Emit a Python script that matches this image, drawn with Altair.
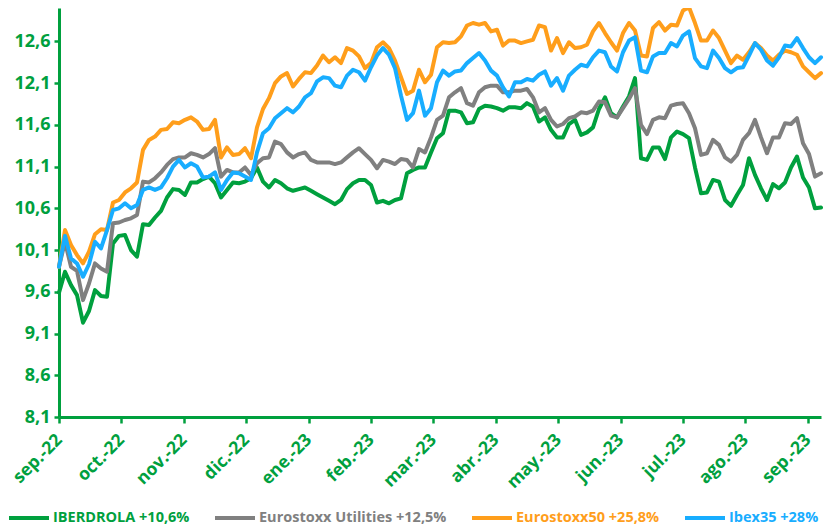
import json
import altair as alt
import pandas as pd

# ---------------- data ----------------
months = ["sep.-22", "oct.-22", "nov.-22", "dic.-22", "ene.-23", "feb.-23", "mar.-23",
          "abr.-23", "may.-23", "jun.-23", "jul.-23", "ago.-23", "sep.-23"]
y_ticks = [8.1, 8.6, 9.1, 9.6, 10.1, 10.6, 11.1, 11.6, 12.1, 12.6]
series_names = ["IBERDROLA +10,6%", "Eurostoxx Utilities +12,5%", "Eurostoxx50 +25,8%", "Ibex35 +28%"]
series_colors = ["#00A03E", "#808080", "#FF9E1B", "#18ADFF"]
points_per_month = 10.4

iberdrola = [9.59, 9.84, 9.68, 9.56, 9.23, 9.37, 9.62, 9.55, 9.54, 10.18,
             10.27, 10.28, 10.10, 10.02, 10.41, 10.40, 10.49, 10.57, 10.73, 10.83,
             10.82, 10.76, 10.91, 10.91, 10.95, 10.98, 10.90, 10.73, 10.82, 10.91,
             10.90, 10.92, 10.96, 11.09, 10.92, 10.85, 10.94, 10.90, 10.84, 10.81,
             10.83, 10.85, 10.81, 10.77, 10.73, 10.69, 10.65, 10.70, 10.83, 10.90,
             10.94, 10.94, 10.88, 10.67, 10.69, 10.66, 10.70, 10.72, 11.02, 11.06,
             11.09, 11.09, 11.27, 11.44, 11.50, 11.77, 11.77, 11.75, 11.62, 11.63,
             11.79, 11.83, 11.82, 11.80, 11.77, 11.81, 11.81, 11.80, 11.86, 11.82,
             11.64, 11.69, 11.54, 11.45, 11.45, 11.61, 11.66, 11.48, 11.51, 11.57,
             11.79, 11.93, 11.74, 11.69, 11.82, 11.94, 12.16, 11.20, 11.18, 11.33,
             11.33, 11.19, 11.45, 11.52, 11.49, 11.44, 11.09, 10.78, 10.79, 10.94,
             10.92, 10.70, 10.63, 10.76, 10.88, 11.20, 11.00, 10.84, 10.70, 10.89,
             10.84, 10.91, 11.09, 11.22, 10.97, 10.85, 10.60, 10.61]

utilities = [9.90, 10.20, 9.90, 9.85, 9.50, 9.70, 9.94, 9.88, 9.84, 10.42,
             10.43, 10.46, 10.48, 10.52, 10.92, 10.91, 10.96, 11.03, 11.12, 11.19,
             11.21, 11.21, 11.26, 11.24, 11.21, 11.25, 11.32, 10.98, 11.06, 11.03,
             11.03, 11.09, 11.00, 11.14, 11.20, 11.21, 11.40, 11.37, 11.27, 11.21,
             11.25, 11.27, 11.18, 11.15, 11.15, 11.15, 11.13, 11.15, 11.21, 11.27,
             11.32, 11.25, 11.18, 11.08, 11.18, 11.16, 11.13, 11.19, 11.18, 11.09,
             11.31, 11.27, 11.45, 11.66, 11.71, 11.93, 11.99, 12.04, 11.86, 11.83,
             11.99, 12.05, 12.07, 12.07, 11.99, 11.99, 12.01, 12.01, 12.03, 11.93,
             11.75, 11.80, 11.66, 11.58, 11.61, 11.68, 11.70, 11.75, 11.74, 11.77,
             11.88, 11.87, 11.71, 11.69, 11.80, 11.91, 12.04, 11.60, 11.49, 11.66,
             11.69, 11.68, 11.83, 11.85, 11.86, 11.74, 11.56, 11.24, 11.26, 11.42,
             11.36, 11.21, 11.16, 11.24, 11.42, 11.50, 11.66, 11.45, 11.26, 11.45,
             11.45, 11.62, 11.61, 11.68, 11.38, 11.25, 10.98, 11.02]

eurostoxx50 = [9.90, 10.34, 10.16, 10.04, 9.94, 10.08, 10.29, 10.35, 10.34, 10.67,
               10.70, 10.79, 10.84, 10.91, 11.30, 11.42, 11.46, 11.54, 11.55, 11.63,
               11.62, 11.66, 11.69, 11.64, 11.54, 11.55, 11.66, 11.21, 11.33, 11.24,
               11.25, 11.32, 11.20, 11.57, 11.79, 11.92, 12.10, 12.18, 12.22, 12.06,
               12.15, 12.23, 12.22, 12.31, 12.43, 12.35, 12.41, 12.34, 12.52, 12.49,
               12.42, 12.28, 12.34, 12.53, 12.59, 12.52, 12.37, 12.17, 11.97, 12.01,
               12.26, 12.11, 12.20, 12.53, 12.59, 12.58, 12.59, 12.66, 12.79, 12.82,
               12.80, 12.82, 12.72, 12.74, 12.55, 12.61, 12.61, 12.58, 12.60, 12.62,
               12.79, 12.77, 12.49, 12.64, 12.46, 12.59, 12.52, 12.53, 12.56, 12.72,
               12.82, 12.70, 12.59, 12.49, 12.70, 12.82, 12.73, 12.43, 12.42, 12.76,
               12.83, 12.73, 12.80, 12.79, 12.97, 13.01, 12.82, 12.61, 12.61, 12.73,
               12.64, 12.49, 12.34, 12.43, 12.38, 12.47, 12.58, 12.52, 12.43, 12.37,
               12.44, 12.49, 12.47, 12.44, 12.30, 12.23, 12.16, 12.22]

ibex35 = [9.90, 10.27, 10.00, 9.94, 9.78, 9.93, 10.20, 10.12, 10.34, 10.58,
          10.60, 10.66, 10.60, 10.64, 10.82, 10.85, 10.82, 10.85, 10.96, 11.10,
          11.18, 11.09, 11.14, 11.10, 10.97, 10.98, 11.03, 10.82, 10.94, 11.03,
          11.02, 10.98, 10.94, 11.27, 11.50, 11.56, 11.68, 11.74, 11.80, 11.75,
          11.82, 11.93, 11.98, 12.12, 12.17, 12.16, 12.07, 12.05, 12.19, 12.26,
          12.23, 12.13, 12.29, 12.43, 12.52, 12.44, 12.28, 11.95, 11.66, 11.74,
          12.01, 11.71, 11.80, 12.11, 12.25, 12.19, 12.24, 12.25, 12.34, 12.40,
          12.46, 12.37, 12.25, 12.19, 12.05, 11.94, 12.11, 12.11, 12.15, 12.13,
          12.20, 12.24, 12.07, 12.16, 12.01, 12.19, 12.26, 12.32, 12.30, 12.41,
          12.49, 12.47, 12.30, 12.24, 12.47, 12.61, 12.65, 12.25, 12.23, 12.42,
          12.46, 12.46, 12.58, 12.54, 12.67, 12.72, 12.40, 12.30, 12.28, 12.49,
          12.40, 12.28, 12.23, 12.28, 12.29, 12.43, 12.58, 12.50, 12.37, 12.31,
          12.41, 12.55, 12.54, 12.64, 12.52, 12.41, 12.34, 12.41]

# ---------------- table ----------------
all_series = [iberdrola, utilities, eurostoxx50, ibex35]
N = len(iberdrola)
rows = []
for name, vals in zip(series_names, all_series):
    for d, v in enumerate(vals):
        rows.append({"day": d, "serie": name, "valor": v})
df = pd.DataFrame(rows)

GREEN = "#00A03E"
FONT = "Open Sans"
tick_pos = [i * points_per_month for i in range(len(months))]
month_expr = json.dumps(months) + "[round(datum.value / %s)]" % points_per_month

x_enc = alt.X(
    "day:Q",
    scale=alt.Scale(domain=[0, N - 1], nice=False, zero=False),
    axis=alt.Axis(
        values=tick_pos, labelExpr=month_expr, title=None, grid=False,
        labelAngle=315, labelAlign="right", labelBaseline="middle",
        labelPadding=14, labelOverlap=False, labelFlush=False, labelBound=False,
        tickSize=6, tickWidth=2.5, tickColor=GREEN,
        domainColor=GREEN, domainWidth=3,
        labelColor=GREEN, labelFont=FONT, labelFontWeight="bold", labelFontSize=17.5,
    ),
)
y_enc = alt.Y(
    "valor:Q",
    scale=alt.Scale(domain=[8.1, 13.0], nice=False, zero=False),
    axis=alt.Axis(
        values=y_ticks, labelExpr="replace(format(datum.value, '.1f'), '.', ',')",
        title=None, grid=False, tickSize=5, tickWidth=2.5, tickColor=GREEN,
        domainColor=GREEN, domainWidth=3, labelPadding=4,
        labelColor=GREEN, labelFont=FONT, labelFontWeight="bold", labelFontSize=18,
    ),
)
legend = alt.Legend(
    title=None, orient="none", legendX=-52, legendY=488, direction="horizontal",
    columns=4, symbolType="stroke", symbolSize=1600, symbolStrokeWidth=4,
    labelFont=FONT, labelFontWeight="bold", labelFontSize=14.5, labelLimit=400,
    labelColor={"expr": "scale('color', datum.value)"},
    columnPadding=17, labelOffset=2, padding=0,
)
color_enc = alt.Color("serie:N", scale=alt.Scale(domain=series_names, range=series_colors),
                      legend=legend)

layers = []
for name in series_names:
    layers.append(
        alt.Chart(df)
        .transform_filter(alt.datum.serie == name)
        .mark_line(strokeWidth=4, strokeJoin="round", strokeCap="round")
        .encode(x=x_enc, y=y_enc, color=color_enc)
    )

chart = (
    alt.layer(*layers)
    .properties(
        width=762, height=409,
        autosize=alt.AutoSizeParams(type="none"),
        padding={"left": 51, "top": 0, "right": 3, "bottom": 108},
    )
    .configure_view(stroke=None)
)

chart.save("out.html", embed_options={"renderer": "svg", "actions": False})
